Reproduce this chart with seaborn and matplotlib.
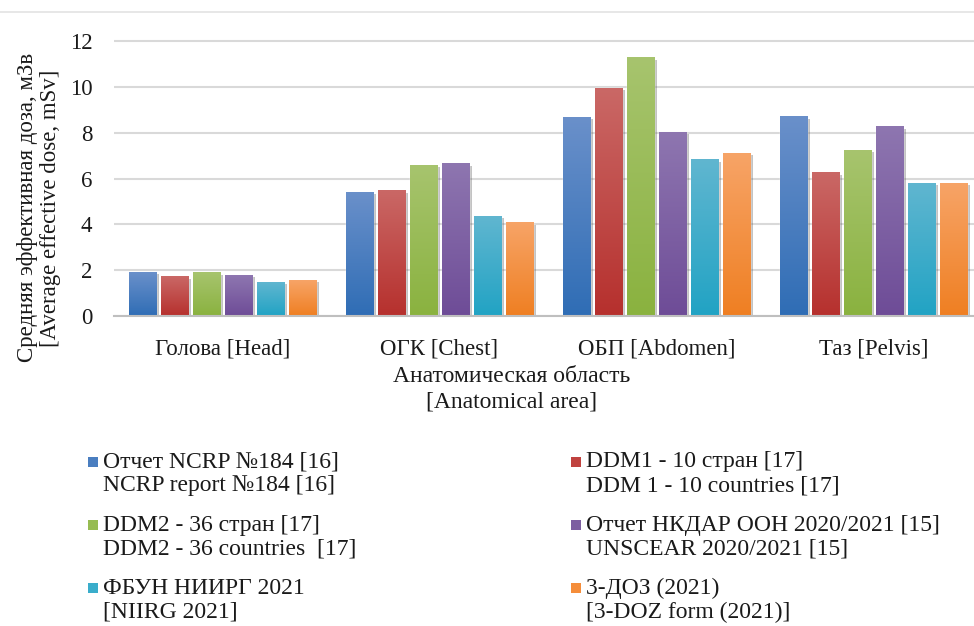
import numpy as np
import pandas as pd
import matplotlib
matplotlib.use("Agg")
import matplotlib.pyplot as plt
import matplotlib.patches as mpatches
import matplotlib.patheffects as pe
from matplotlib.colors import LinearSegmentedColormap
from matplotlib.lines import Line2D
import seaborn as sns

# Анатомические области
areas = ["Голова [Head]", "ОГК [Chest]", "ОБП [Abdomen]", "Таз [Pelvis]"]

sources = [
    "Отчет NCRP №184 [16]\nNCRP report №184 [16]",
    "DDM1 - 10 стран [17]\nDDM 1 - 10 countries [17]",
    "DDM2 - 36 стран [17]\nDDM2 - 36 countries  [17]",
    "Отчет НКДАР ООН 2020/2021 [15]\nUNSCEAR 2020/2021 [15]",
    "ФБУН НИИРГ 2021\n[NIIRG 2021]",
    "3-ДОЗ (2021)\n[3-DOZ form (2021)]",
]

# значения по областям (Head, Chest, Abdomen, Pelvis)
ncrp = [1.92, 5.40, 8.68, 8.70]
ddm1 = [1.72, 5.47, 9.96, 6.25]
ddm2 = [1.88, 6.58, 11.28, 7.25]
unscear = [1.79, 6.66, 8.03, 8.26]
niirg = [1.48, 4.36, 6.83, 5.80]
doz = [1.57, 4.07, 7.12, 5.80]

colors = ["#4A7EC0", "#C0423F", "#97BC52", "#7D5EA1", "#3AADCB", "#F58D3A"]
tops = ["#6A90CA", "#CA6866", "#A7C46E", "#8E76B0", "#60B6D0", "#F7A467"]
bottoms = ["#2F6DB5", "#B6302D", "#8AB23F", "#6E4C97", "#21A3C4", "#EF7F22"]

values = [ncrp, ddm1, ddm2, unscear, niirg, doz]
rows = []
for src, vals in zip(sources, values):
    for a, v in zip(areas, vals):
        rows.append({"area": a, "source": src, "dose": v})
df = pd.DataFrame(rows)

sns.set_theme(style="white")
plt.rcParams["font.family"] = ["Liberation Serif", "DejaVu Serif"]
plt.rcParams["font.size"] = 16
txt = "#1a1a1a"

fig = plt.figure(figsize=(9.74, 6.26), dpi=100)
ax = fig.add_axes([114 / 974, 310 / 626, 868 / 974, 0.457])

sns.barplot(data=df, x="area", y="dose", hue="source", hue_order=sources,
            palette=colors, width=0.885, gap=0.15, ax=ax, legend=False,
            saturation=1, zorder=2)

# градиентная заливка и тень как в Excel
grad = np.linspace(0, 1, 256).reshape(-1, 1)
for cont, ctop, cbot in zip(ax.containers, tops, bottoms):
    cmap = LinearSegmentedColormap.from_list("g", [cbot, ctop])
    for bar in cont:
        x0, y0 = bar.get_x(), bar.get_y()
        w, h = bar.get_width(), bar.get_height()
        bar.set_path_effects([pe.SimplePatchShadow(offset=(2, -1.5), shadow_rgbFace="#555555", alpha=0.35),
                              pe.Normal()])
        ax.imshow(grad, cmap=cmap, extent=[x0, x0 + w, y0, y0 + h], origin="lower",
                  aspect="auto", zorder=2.5, interpolation="bilinear")

ax.set_xlim(-0.5, 3.5)
ax.set_ylim(0, 12.5)
ax.set_yticks([0, 2, 4, 6, 8, 10, 12])
ax.grid(axis="y", color="#D9D9D9", linewidth=1.5, zorder=0)
ax.set_axisbelow(True)
for s in ["top", "right", "left"]:
    ax.spines[s].set_visible(False)
ax.spines["bottom"].set_color("#BFBFBF")
ax.spines["bottom"].set_linewidth(1.5)
ax.tick_params(axis="y", length=0, pad=15.5, labelsize=16.5, colors=txt)
ax.tick_params(axis="x", length=0, pad=16, labelsize=16.5, colors=txt)

ax.set_xlabel("Анатомическая область\n[Anatomical area]", fontsize=17, color=txt,
              linespacing=1.3)
ax.xaxis.set_label_coords((512 - 114) / 868, -0.175)
ax.set_ylabel("Средняя эффективная доза, мЗв\n[Average effective dose, mSv]", fontsize=16.5,
              color=txt, linespacing=1.15)
ax.yaxis.set_label_coords((61 - 114) / 868, 0.378)

# тонкая линия рамки сверху
fig.add_artist(Line2D([0, 1], [1 - 12 / 626, 1 - 12 / 626], transform=fig.transFigure,
                      color="#E3E3E3", linewidth=1.2))

# легенда: два столбца, маркер у первой строки
leg_x = [88, 571]
leg_y = [462, 525, 588]
for i, (src, c) in enumerate(zip(sources, colors)):
    col, row = i % 2, i // 2
    x, y = leg_x[col], leg_y[row]
    fig.add_artist(mpatches.Rectangle((x / 974, 1 - (y + 5) / 626), 10 / 974, 10 / 626,
                                      transform=fig.transFigure, facecolor=c, edgecolor="none"))
    for k, line in enumerate(src.split("\n")):
        fig.text((x + 15) / 974, 1 - (y + 24 * k) / 626, line, fontsize=17,
                 color=txt, va="center", ha="left")

fig.savefig("out.png", dpi=100)
